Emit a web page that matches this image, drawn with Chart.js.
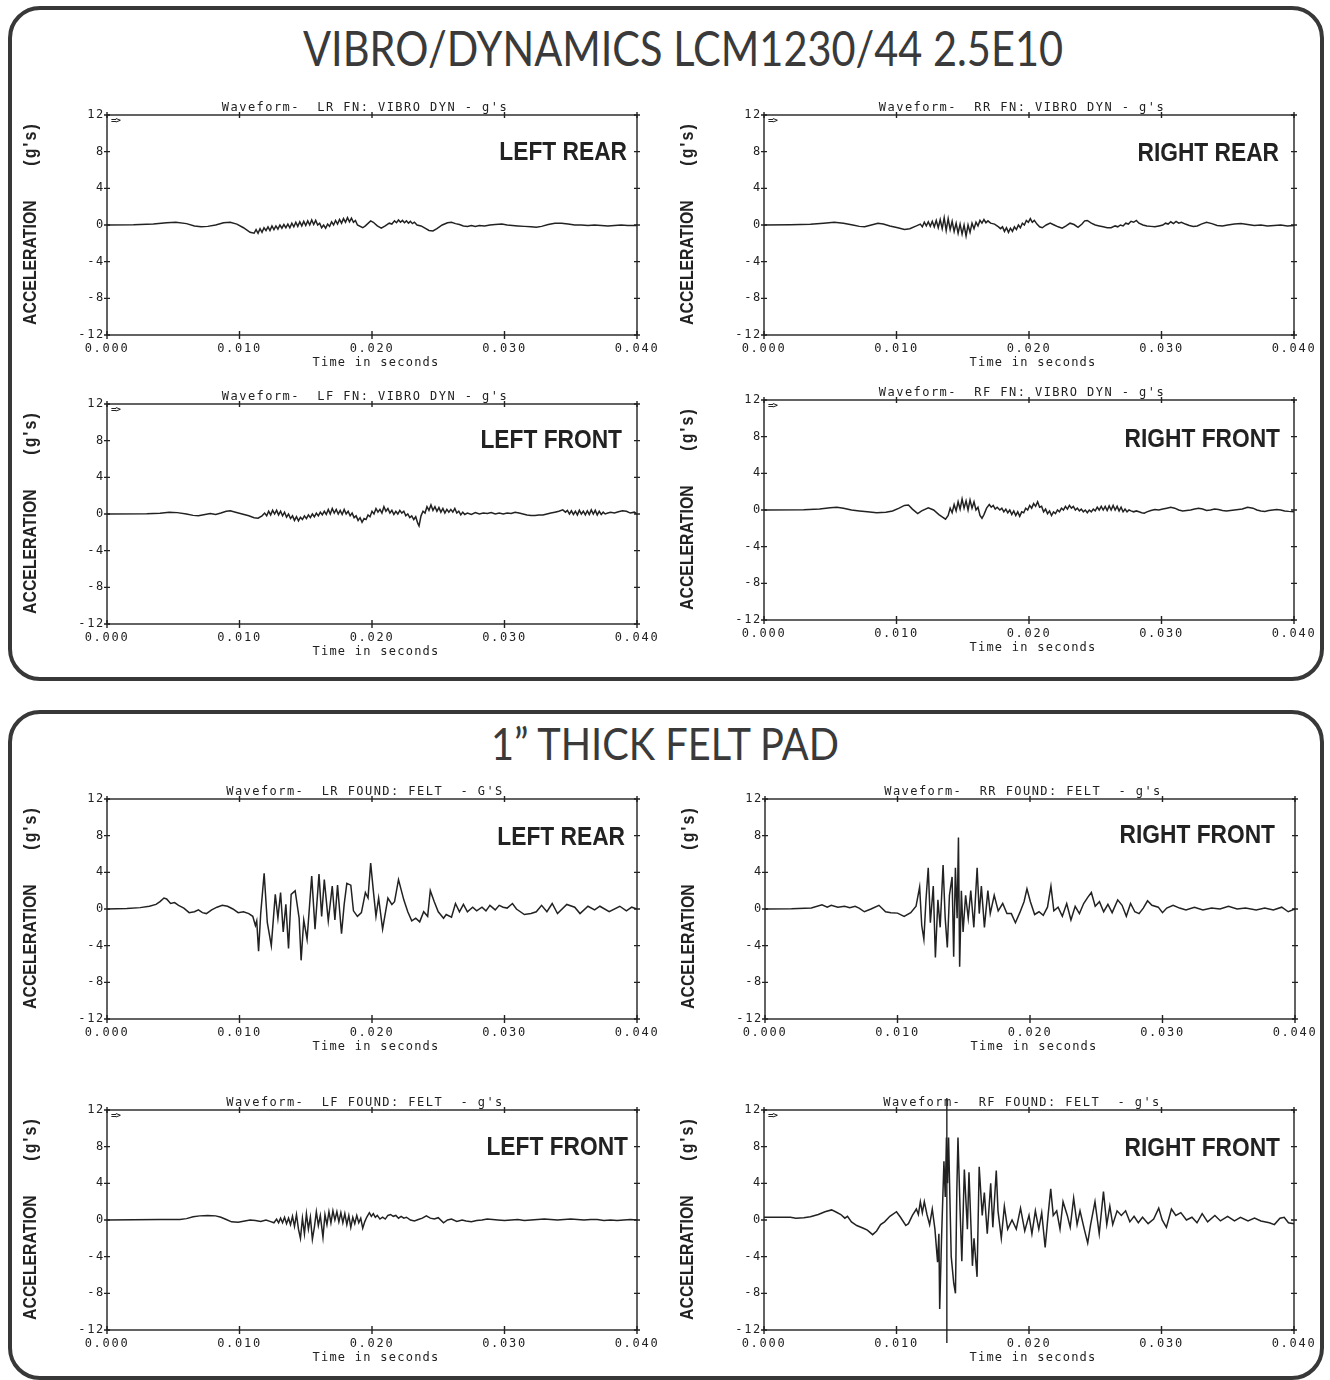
<!DOCTYPE html>
<html>
<head>
<meta charset="utf-8">
<title>Vibro/Dynamics mounts vs felt pad - acceleration waveforms</title>
<script src="https://cdn.jsdelivr.net/npm/chart.js@4.4.1/dist/chart.umd.min.js"></script>
<style>
  html, body { margin: 0; padding: 0; background: #fff; }
  #page { position: relative; width: 1330px; height: 1380px; overflow: hidden; background: #fff; }
  .panel { position: absolute; box-sizing: border-box; border: 4px solid #383838; border-radius: 32px; }
  .ptitle { position: absolute; white-space: nowrap; font-family: Lato, "Open Sans", sans-serif; font-weight: 400;
            color: #3a3a3a; line-height: 1; transform-origin: 0 0; }
  .bl { display: inline-block; width: 0; height: 0; }
  canvas { position: absolute; }
</style>
</head>
<body>
<div id="page">
  <div class="panel" style="left:8px;top:6px;width:1316px;height:675px"></div>
  <div class="panel" style="left:8px;top:710px;width:1316px;height:670px"></div>
  <div class="ptitle" id="title1" style="font-size:48px">VIBRO/DYNAMICS LCM1230/44 2.5E10<span class="bl"></span></div>
  <div class="ptitle" id="title2" style="font-size:45px">1” THICK FELT PAD<span class="bl"></span></div>
</div>
<script>
const MONO = '"DejaVu Sans Mono", "Liberation Mono", monospace';
const SANS = '"Liberation Sans", Arial, sans-serif';
const INK = '#222';

// axes (time in ms on the scale, labelled in seconds)
const xTicks = [0, 10, 20, 30, 40];
const xTickLabels = ['0.000', '0.010', '0.020', '0.030', '0.040'];
const yTicks = [-12, -8, -4, 0, 4, 8, 12];
const yTickLabels = ['-12', '-8', '-4', '0', '4', '8', '12'];

// waveforms: [time in ms, acceleration in g]
const lrVibro = [[0,0],[2,0.02],[3.5,0.1],[4.5,0.25],[5.2,0.3],[6,0.15],[6.6,-0.1],[7.1,-0.2],[7.6,-0.15],[8.2,0],[8.8,0.25],[9.3,0.3],[9.8,0.1],[10.3,-0.3],[10.8,-0.8],[11.1,-0.9],
  [11.25,-0.5],[11.4,-0.9],[11.55,-0.4],[11.7,-0.8],[11.85,-0.3],[12,-0.6],[12.15,-0.2],[12.3,-0.6],[12.45,-0.1],[12.6,-0.5],[12.75,-0.1],[12.9,-0.45],[13.05,0],[13.2,-0.35],[13.35,0.05],[13.5,-0.3],[13.65,0.1],[13.8,-0.3],[13.95,0.2],[14.1,-0.2],[14.25,0.3],[14.4,-0.15],[14.55,0.35],[14.7,-0.1],[14.85,0.4],[15,-0.05],[15.15,0.45],[15.3,0],[15.45,0.55],[15.6,0.05],[15.75,0.5],[15.9,0],[16.05,0.2],[16.2,-0.3],[16.35,0],[16.5,-0.35],[16.65,0.1],[16.8,-0.15],[16.95,0.35],[17.1,0],[17.25,0.5],[17.4,0.1],[17.55,0.6],[17.7,0.2],[17.85,0.7],[18,0.3],[18.15,0.8],[18.3,0.35],[18.45,0.75],[18.6,0.3],[18.75,0.5],[18.9,0],
  [19.3,-0.3],[19.5,-0.1],[19.9,0.45],[20.1,0.3],[20.4,-0.1],[20.7,-0.35],[21,-0.1],[21.3,0.2],[21.5,0.1],[21.7,0.45],[21.85,0.25],[22,0.55],[22.15,0.3],[22.3,0.5],[22.45,0.25],[22.6,0.45],[22.75,0.2],[22.9,0.4],[23.05,0.15],[23.2,0.3],[23.4,0],[23.7,-0.1],[24,-0.35],[24.3,-0.6],[24.6,-0.65],[24.9,-0.4],[25.3,0],[25.7,0.25],[26,0.3],[26.3,0.15],[26.6,0.05],[26.9,-0.1],[27.2,-0.15],[27.5,-0.05],[27.8,-0.15],[28.1,-0.05],[28.5,-0.1],[28.9,0],[29.3,0.05],[29.8,0.1],[30.2,0],[30.6,-0.05],[31,-0.1],[31.5,-0.15],[32,-0.2],[32.4,-0.25],[32.8,-0.15],[33.3,0.05],[33.8,0.2],[34.3,0.2],[34.8,0.1],[35.3,0],[35.8,0],[36.3,-0.05],[36.8,0],[37.3,-0.05],[37.8,-0.1],[38.3,-0.05],[38.8,0],[39.3,-0.05],[40,-0.05]];

const rrVibro = [[0,0],[2,0.02],[3.5,0.08],[4.5,0.2],[5.3,0.3],[6,0.2],[6.7,0],[7.2,-0.15],[7.6,-0.2],[8.1,0],[8.6,0.2],[9,0.1],[9.5,-0.1],[10.1,-0.3],[10.6,-0.5],[11,-0.4],[11.5,-0.1],
  [11.8,0.1],[11.95,-0.2],[12.1,0.3],[12.25,-0.1],[12.4,0.35],[12.55,-0.15],[12.7,0.4],[12.85,-0.2],[13,0.5],[13.15,-0.3],[13.3,0.6],[13.45,-0.4],[13.6,0.8],[13.75,-0.6],[13.9,0.7],[14.05,-0.5],[14.2,0.4],[14.35,-0.7],[14.5,0.2],[14.65,-0.9],[14.8,0.1],[14.95,-1],[15.1,0],[15.25,-1.2],[15.4,0],[15.55,-0.8],[15.7,0.2],[15.85,-0.4],[16,0.3],[16.15,-0.1],[16.3,0.5],[16.45,0.2],[16.6,0.6],[16.75,0.25],[16.9,0.45],[17.1,0.2],[17.4,0.1],[17.7,-0.2],
  [17.85,-0.4],[18,-0.2],[18.15,-0.7],[18.3,-0.3],[18.45,-0.8],[18.6,-0.35],[18.75,-0.7],[18.9,-0.2],[19.05,-0.5],[19.2,0],[19.35,-0.3],[19.5,0.2],[19.65,0],[19.8,0.5],[19.95,0.3],[20.1,0.7],[20.25,0.3],[20.4,0.5],[20.6,0.1],[20.8,-0.2],[21,-0.3],[21.3,0],[21.6,0.2],[21.9,0],[22.2,-0.2],[22.5,-0.35],[22.8,-0.1],[23.1,0.2],[23.4,0.05],[23.7,-0.25],[24,0.1],[24.2,0.45],[24.4,0.5],[24.7,0.2],[25,0],[25.3,-0.1],[25.6,-0.2],[25.9,-0.3],[26.2,-0.3],[26.5,-0.1],[26.7,-0.2],[26.9,0],[27.1,-0.1],[27.3,0.2],[27.5,0.1],[27.7,0.4],[27.9,0.3],[28.1,0.5],[28.3,0.2],[28.6,0],[28.9,-0.1],[29.2,-0.15],[29.5,-0.2],[29.8,-0.1],[30.1,0],[30.3,0.2],[30.5,0.1],[30.7,0.35],[30.9,0.15],[31.1,0.4],[31.3,0.2],[31.5,0.3],[31.8,0.1],[32.1,-0.05],[32.4,-0.15],[32.7,-0.1],[33,0.1],[33.4,0.3],[33.8,0.15],[34.2,-0.05],[34.6,-0.1],[35,0],[35.5,0.1],[36,0.15],[36.5,0.05],[37,-0.05],[37.5,0],[38,-0.1],[38.5,-0.05],[39,0],[39.5,-0.1],[40,-0.05]];

const lfVibro = [[0,0],[3,0.02],[4,0.08],[4.7,0.2],[5.3,0.15],[6,0],[6.5,-0.15],[6.9,-0.2],[7.4,-0.05],[7.8,0.05],[8.2,-0.05],[8.6,0.1],[9,0.3],[9.3,0.35],[9.7,0.2],[10.2,0],[10.7,-0.2],[11.1,-0.4],[11.4,-0.45],[11.7,-0.2],
  [11.9,0.1],[12.05,-0.2],[12.2,0.3],[12.35,-0.1],[12.5,0.4],[12.65,0],[12.8,0.4],[12.95,-0.1],[13.1,0.3],[13.25,-0.2],[13.4,0.2],[13.55,-0.35],[13.7,0],[13.85,-0.5],[14,-0.2],[14.15,-0.7],[14.3,-0.3],[14.45,-0.75],[14.6,-0.35],[14.75,-0.6],[14.9,-0.2],[15.05,-0.5],[15.2,-0.1],[15.35,-0.4],[15.5,0],[15.65,-0.3],[15.8,0.1],[15.95,-0.2],[16.1,0.2],[16.25,-0.1],[16.4,0.3],[16.55,-0.05],[16.7,0.5],[16.85,0],[17,0.6],[17.15,0.1],[17.3,0.5],[17.45,0],[17.6,0.4],[17.75,-0.05],[17.9,0.5],[18.05,0],[18.2,0.3],[18.35,-0.2],[18.5,0.1],[18.65,-0.4],[18.8,-0.2],[18.95,-0.7],[19.1,-0.4],[19.25,-0.9],[19.4,-0.5],[19.55,-0.6],[19.7,-0.1],[19.85,-0.3],[20,0.3],[20.15,0],[20.3,0.6],[20.45,0.2],[20.6,0.5],[20.75,0.1],[20.9,0.8],[21.05,0.3],[21.2,0.6],[21.35,0.1],[21.5,0.4],[21.65,-0.05],[21.8,0.3],[21.95,0],[22.1,0.4],[22.25,0.1],[22.4,0.3],[22.55,-0.2],[22.7,0],[22.85,-0.4],[23,-0.2],[23.15,-0.6],[23.3,-0.3],[23.45,-1],[23.55,-1.3],[23.7,-0.2],[23.85,0.3],[24,0.1],[24.15,0.8],[24.3,0.4],[24.45,1],[24.6,0.4],[24.75,0.8],[24.9,0.3],[25.05,0.7],[25.2,0.2],[25.35,0.6],[25.5,0.1],[25.65,0.5],[25.8,0.2],[25.95,0.5],[26.1,0.2],[26.25,0.6],[26.4,0.1],[26.55,0.3],[26.7,-0.1],[26.85,0.2],[27,-0.05],[27.2,0.1],[27.5,-0.05],[27.8,0.15],[28.1,0],[28.4,0.1],[28.7,0.05],[29,0.15],[29.3,0],[29.6,0.1],[29.9,0],[30.2,0.1],[30.5,0.05],[30.8,0.2],[31.1,0.1],[31.4,0],[31.7,-0.1],[32,-0.15],[32.3,-0.15],[32.6,-0.1],[32.9,-0.1],[33.2,0],[33.5,0.1],[33.8,0.2],[34.1,0.3],[34.4,0.45],[34.6,0.2],[34.75,0.4],[34.9,0],[35.05,0.35],[35.2,-0.05],[35.35,0.3],[35.5,-0.1],[35.65,0.4],[35.8,0],[35.95,0.3],[36.1,-0.1],[36.25,0.35],[36.4,-0.05],[36.55,0.45],[36.7,0],[36.85,0.4],[37,-0.1],[37.15,0.3],[37.3,-0.05],[37.45,0.2],[37.6,0],[37.8,0.1],[38,0.2],[38.3,0.1],[38.6,0.25],[38.9,0.35],[39.2,0.3],[39.5,0.1],[39.8,0.2],[40,0]];

const rfVibro = [[0,0],[3,0.02],[4.2,0.1],[5,0.25],[5.5,0.3],[6,0.2],[6.6,0],[7.2,-0.1],[7.8,-0.2],[8.5,-0.3],[9.2,-0.25],[9.7,-0.1],[10.2,0.2],[10.6,0.5],[10.9,0.55],[11.2,0.1],[11.6,-0.4],[11.9,-0.1],[12.4,0.25],[12.8,0],[13.2,-0.5],[13.5,-0.8],[13.7,-1],[13.9,-0.6],
  [14.05,0.2],[14.2,-0.3],[14.35,0.6],[14.5,-0.1],[14.65,0.9],[14.8,0.1],[14.95,1.2],[15.1,0.2],[15.25,1],[15.4,0],[15.55,1.1],[15.7,0.2],[15.85,0.9],[16,0],[16.15,0.3],[16.3,-0.6],[16.45,-0.9],[16.6,-0.5],[16.8,0.2],[17,0.6],[17.15,0.3],[17.3,0.5],[17.45,0.1],[17.6,0.3],[17.8,0],[17.95,0.2],[18.1,-0.2],[18.25,0.1],[18.4,-0.3],[18.55,0],[18.7,-0.5],[18.85,-0.1],[19,-0.6],[19.15,-0.2],[19.3,-0.7],[19.45,-0.2],[19.6,-0.3],[19.75,0.2],[19.9,0],[20.05,0.5],[20.2,0.2],[20.35,0.7],[20.5,0.4],[20.65,0.9],[20.8,0.3],[20.95,0.4],[21.1,-0.2],[21.25,0.1],[21.4,-0.4],[21.55,-0.1],[21.7,-0.6],[21.85,-0.2],[22,-0.4],[22.15,0],[22.3,-0.2],[22.45,0.2],[22.6,0],[22.75,0.4],[22.9,0.1],[23.05,0.5],[23.2,0.2],[23.35,0.4],[23.5,0],[23.65,0.2],[23.8,-0.1],[23.95,0.1],[24.1,-0.2],[24.25,0],[24.4,-0.3],[24.55,0],[24.7,-0.2],[24.85,0.1],[25,-0.1],[25.15,0.3],[25.3,0],[25.45,0.4],[25.6,0],[25.75,0.4],[25.9,-0.05],[26.05,0.45],[26.2,0],[26.35,0.5],[26.5,0],[26.65,0.4],[26.8,-0.1],[26.95,0.3],[27.1,-0.2],[27.25,0.1],[27.4,-0.2],[27.55,0],[27.7,-0.1],[27.9,-0.2],[28.1,-0.1],[28.3,-0.2],[28.5,-0.3],[28.7,-0.35],[28.9,-0.2],[29.2,-0.05],[29.5,0.05],[29.8,0],[30.1,0.1],[30.4,0.2],[30.7,0.3],[31,0.2],[31.3,0],[31.6,-0.1],[31.9,-0.05],[32.2,0],[32.5,0.1],[32.8,0.2],[33.1,0.1],[33.4,-0.05],[33.7,0],[34,0.1],[34.3,0.05],[34.6,-0.05],[34.9,-0.1],[35.2,-0.05],[35.5,0],[35.8,0.05],[36.1,0.1],[36.5,0.3],[36.9,0.2],[37.2,0],[37.5,-0.1],[37.8,-0.15],[38.1,-0.05],[38.4,0],[38.7,0.05],[39,0],[39.3,-0.1],[39.6,-0.15],[40,-0.2]];

const lrFelt = [[0,0],[1.5,0.05],[2.5,0.15],[3.2,0.3],[3.7,0.5],[4,0.8],[4.3,1.2],[4.5,1.1],[4.8,0.6],[5.1,0.7],[5.4,0.4],[5.8,0.1],[6.2,-0.4],[6.6,-0.3],[6.9,-0.1],[7.2,-0.4],[7.5,-0.5],[7.9,-0.1],[8.3,0.2],[8.7,0.4],[9.1,0.3],[9.5,0],[9.9,-0.4],[10.3,-0.3],[10.7,-0.5],[11,-0.8],[11.2,-1.8],[11.3,-1.3],[11.44,-4.6],[11.6,-0.5],[11.86,3.9],[12.1,-1.5],[12.4,-4],[12.7,1.6],[12.9,-1],[13.1,1.8],[13.3,-2.5],[13.5,0.5],[13.7,-4.3],[13.9,1.6],[14.2,2],[14.5,-1],[14.65,-5.6],[14.85,-1.2],[15.1,-3.3],[15.45,3.6],[15.7,-2.2],[16,3.8],[16.2,-0.8],[16.4,3.2],[16.7,-1.3],[17,2.5],[17.2,-1.2],[17.4,2.6],[17.7,-2.7],[17.9,0.5],[18.1,2.8],[18.4,2.6],[18.6,-0.2],[18.9,-0.8],[19.2,-0.4],[19.5,1.8],[19.7,1.2],[19.9,5],[20.1,2],[20.3,-0.8],[20.5,1.2],[20.8,-2.2],[21.2,1.2],[21.5,0.5],[21.7,0.8],[22,3.2],[22.4,1],[22.7,-0.3],[23,-1.3],[23.3,-1],[23.6,-1.4],[23.9,-0.3],[24.2,-0.8],[24.4,2],[24.7,0.8],[25,-0.3],[25.4,-1],[25.6,-0.6],[26,-0.9],[26.3,0.6],[26.6,-0.3],[26.9,0.5],[27.2,-0.3],[27.6,0.2],[27.9,-0.2],[28.3,0.2],[28.6,-0.2],[28.9,0.4],[29.3,-0.1],[29.6,0.4],[29.9,0.2],[30.2,0.1],[30.6,0.6],[30.9,0],[31.5,-0.6],[32,-0.5],[32.4,-0.3],[32.8,0.4],[33.2,-0.3],[33.6,0.6],[34,-0.5],[34.7,0.5],[35.3,0.2],[35.7,-0.5],[36.3,0.3],[36.8,-0.1],[37.2,0.3],[37.9,-0.3],[38.7,0.3],[39.2,-0.2],[39.6,0.2],[40,0]];

const rrFelt = [[0,0],[2,0.02],[3.5,0.1],[4.3,0.45],[4.7,0.2],[5,0.4],[5.5,0.2],[6,0.3],[6.4,0.15],[6.8,0.3],[7.1,0.1],[7.5,-0.3],[8,0],[8.6,0.4],[9.1,-0.3],[9.5,-0.4],[10,-0.45],[10.5,-0.8],[11,-0.4],[11.4,0.3],[11.67,2.4],[11.83,-1.8],[11.99,-3.3],[12.15,1],[12.32,4.5],[12.48,-1.5],[12.7,2.5],[12.86,-5.3],[13.05,1],[13.22,-2],[13.44,4.8],[13.6,-1],[13.76,-4.2],[13.92,1.5],[14.12,3.5],[14.24,-5.2],[14.37,4.5],[14.5,-1],[14.6,7.8],[14.69,-6.3],[14.82,2],[14.95,-2.5],[15.14,1.5],[15.34,-1],[15.53,2],[15.76,-2],[16.01,4.5],[16.17,-0.5],[16.33,2.5],[16.56,-2],[16.82,2],[17,-0.5],[17.3,1.5],[17.6,-0.2],[17.94,0.6],[18.26,-0.5],[18.59,-0.5],[18.9,-1.5],[19.23,-0.4],[19.55,0.8],[19.77,2.2],[20.03,0.8],[20.35,-0.6],[20.68,-0.3],[21,-0.7],[21.32,0.2],[21.58,2.5],[21.8,-0.2],[22.12,0.2],[22.44,-0.8],[22.77,0.6],[23.09,-1.2],[23.41,0.3],[23.73,-0.5],[24.05,0.6],[24.37,1.3],[24.63,1.8],[24.92,0.3],[25.24,0.8],[25.56,-0.3],[25.88,0.5],[26.2,-0.4],[26.62,1],[26.95,0.4],[27.27,-0.8],[27.59,0.6],[27.91,-0.3],[28.23,-0.5],[28.55,0.1],[28.87,0.9],[29.2,0.4],[29.68,0.2],[30,-0.4],[30.32,0.1],[30.8,0.4],[31.29,0.1],[31.77,-0.1],[32.41,0.2],[33.05,-0.1],[33.7,0.1],[34.34,0],[34.98,0.3],[35.63,0],[36.27,0.1],[37.07,-0.1],[37.72,0.1],[38.36,-0.1],[39,0.2],[39.49,-0.3],[40,0]];

const lfFelt = [[0,0],[2,0.02],[4,0.05],[5.5,0.05],[6,0.15],[6.5,0.35],[7,0.45],[7.6,0.5],[8.2,0.45],[8.6,0.3],[9,0.05],[9.4,-0.2],[9.9,-0.25],[10.4,-0.1],[10.8,0],[11.2,-0.05],[11.6,-0.15],[12,0],[12.3,-0.15],[12.6,-0.3],[12.8,0.1],[12.95,-0.3],[13.1,0.2],[13.25,-0.3],[13.4,0.3],[13.55,-0.4],[13.7,0.2],[13.85,-0.5],[14,0.4],[14.15,-0.7],[14.3,0.6],[14.45,-1],[14.6,-2],[14.75,0.2],[14.9,-1.5],[15.05,0.7],[15.2,-1],[15.35,0.3],[15.5,-2.1],[15.65,-0.8],[15.8,0.9],[15.95,-0.6],[16.1,0.5],[16.3,-1.9],[16.45,0.6],[16.6,-0.5],[16.75,0.9],[16.9,-0.3],[17.05,1],[17.2,0],[17.35,0.9],[17.5,-0.2],[17.65,0.8],[17.8,-0.3],[17.95,0.7],[18.1,-0.5],[18.25,0.5],[18.4,-0.8],[18.55,0.3],[18.7,-0.4],[18.85,0.5],[19,-0.3],[19.15,0.2],[19.3,-0.9],[19.45,-0.2],[19.6,0.3],[19.8,0.8],[19.95,0.4],[20.1,0.7],[20.25,0.3],[20.4,0.5],[20.6,0.1],[20.8,0.3],[21,0.1],[21.2,0.5],[21.4,0.6],[21.6,0.4],[21.8,0.5],[22,0.2],[22.2,0.4],[22.4,0.2],[22.6,0.3],[22.9,0],[23.2,-0.1],[23.5,0.05],[23.8,0.2],[24.1,0.45],[24.4,0.2],[24.7,0.1],[25,0.25],[25.4,-0.3],[25.7,0],[26,0.1],[26.4,-0.15],[26.8,0],[27.1,-0.1],[27.5,-0.2],[27.9,-0.05],[28.3,0],[28.7,0.1],[29.1,0.05],[29.5,0],[30,-0.05],[30.5,0],[31,0.05],[31.5,-0.05],[32,0],[32.5,0.05],[33,0.1],[33.5,0.05],[34,0],[34.5,0.05],[35,0.1],[35.5,0.05],[36,0],[36.5,0.05],[37,0.05],[37.5,-0.05],[38,0],[38.5,-0.05],[39,0],[39.5,0.05],[40,0]];

const rfFelt = [[0,0.3],[1,0.3],[2,0.3],[2.4,0.2],[3,0.25],[3.5,0.35],[4.1,0.6],[4.6,0.9],[5.1,1.1],[5.4,0.9],[5.8,0.6],[6.1,0.2],[6.3,0.4],[6.6,-0.2],[7,-0.6],[7.5,-0.9],[7.8,-1.1],[8.2,-1.6],[8.5,-1.2],[8.8,-0.5],[9.1,-0.2],[9.5,0.4],[10,0.9],[10.3,0.3],[10.7,-0.6],[10.9,-0.4],[11.2,0.5],[11.5,1.2],[11.65,0.6],[11.8,2],[11.95,0.8],[12.1,2],[12.3,0.6],[12.5,-0.5],[12.7,1.2],[12.9,-1],[13.1,-4.6],[13.2,-1.5],[13.26,-9.7],[13.4,-2],[13.58,6.4],[13.68,2.5],[13.77,9],[13.85,4],[13.93,9],[14.02,3],[14.13,-4],[14.32,-6.9],[14.45,-8],[14.55,3],[14.64,9],[14.8,1],[14.93,-4.5],[15.12,5.5],[15.35,-1],[15.47,5.2],[15.73,-5],[15.85,-2],[16.08,-6.2],[16.24,5.8],[16.47,0.5],[16.63,3],[16.85,-1.5],[17.11,4],[17.27,-0.8],[17.53,5.4],[17.66,1],[17.91,-2],[18.14,1.5],[18.39,-1],[18.72,0],[19.04,-1],[19.36,1.3],[19.68,-1.2],[20,0.5],[20.22,-1.5],[20.48,1],[20.74,-1],[20.96,0.8],[21.22,-3],[21.44,0.5],[21.64,3.4],[21.83,0.5],[22.09,1],[22.34,-1],[22.57,2],[22.89,0.5],[23.11,-0.8],[23.37,2.4],[23.63,-0.5],[23.85,1],[24.17,-1],[24.43,-2.5],[24.65,-0.5],[24.98,2],[25.3,-1.5],[25.62,3.1],[25.87,-0.5],[26.1,1.5],[26.32,-0.5],[26.65,1],[26.97,0.5],[27.29,1],[27.61,-0.2],[27.93,0.4],[28.25,-0.3],[28.57,0.3],[28.99,-0.4],[29.41,0.1],[29.79,1.3],[30.05,0],[30.37,-0.8],[30.75,1.2],[31.08,0.5],[31.46,0.8],[31.88,0],[32.3,0.3],[32.68,-0.3],[33.07,0.7],[33.48,-0.2],[34.03,0.5],[34.45,-0.1],[34.99,0.4],[35.51,-0.1],[35.96,0.3],[36.53,-0.1],[37.02,0.2],[37.5,-0.1],[38.14,-0.3],[38.52,-0.5],[38.94,0.2],[39.26,0.3],[39.58,-0.3],[40,-0.4]];
const rfFeltCursor = 13.8; // vertical marker line on the RF felt trace (ms)

// page layout for each plot (plot-area top-left in page pixels)
const plots = [
  { data: lrVibro, title: "Waveform-  LR FN: VIBRO DYN - g's", tag: 'LEFT REAR',   left: 107, top: 115, tagDx: 10, tagDy: 45, arrow: true },
  { data: rrVibro, title: "Waveform-  RR FN: VIBRO DYN - g's", tag: 'RIGHT REAR',  left: 764, top: 115, tagDx: 15, tagDy: 46, arrow: true },
  { data: lfVibro, title: "Waveform-  LF FN: VIBRO DYN - g's", tag: 'LEFT FRONT',  left: 107, top: 404, tagDx: 15, tagDy: 44, arrow: true },
  { data: rfVibro, title: "Waveform-  RF FN: VIBRO DYN - g's", tag: 'RIGHT FRONT', left: 764, top: 400, tagDx: 14, tagDy: 47, arrow: true },
  { data: lrFelt,  title: "Waveform-  LR FOUND: FELT  - G'S",  tag: 'LEFT REAR',   left: 107, top: 799, tagDx: 12, tagDy: 46, arrow: false },
  { data: rrFelt,  title: "Waveform-  RR FOUND: FELT  - g's",  tag: 'RIGHT FRONT', left: 765, top: 799, tagDx: 20, tagDy: 44, arrow: false },
  { data: lfFelt,  title: "Waveform-  LF FOUND: FELT  - g's",  tag: 'LEFT FRONT',  left: 107, top: 1110, tagDx: 9, tagDy: 45, arrow: true },
  { data: rfFelt,  title: "Waveform-  RF FOUND: FELT  - g's",  tag: 'RIGHT FRONT', left: 764, top: 1110, tagDx: 14, tagDy: 46, arrow: true, cursor: rfFeltCursor }
];

const Y_W = 92, TOP_PAD = 25, RIGHT_PAD = 30, X_H = 45, PLOT_W = 530, PLOT_H = 220;

// frame, cross ticks, titles and labels of the old plotter sheets
const decor = {
  id: 'decor',
  beforeDraw(chart) { chart.ctx.letterSpacing = '1.7px'; },
  afterDraw(chart, args, o) {
    const { ctx, chartArea: a, scales: { x, y } } = chart;
    ctx.save();
    ctx.strokeStyle = INK;
    ctx.fillStyle = INK;
    ctx.lineWidth = 1.4;
    ctx.strokeRect(a.left, a.top, a.width, a.height);
    ctx.beginPath();
    yTicks.forEach(v => {
      const py = y.getPixelForValue(v);
      ctx.moveTo(a.left - 3, py); ctx.lineTo(a.left + 3, py);
      ctx.moveTo(a.right - 3, py); ctx.lineTo(a.right + 3, py);
    });
    xTicks.forEach(v => {
      const px = x.getPixelForValue(v);
      ctx.moveTo(px, a.bottom - 4); ctx.lineTo(px, a.bottom + 4);
      ctx.moveTo(px, a.top - 3); ctx.lineTo(px, a.top + 3);
    });
    ctx.stroke();
    if (o.cursor != null) {
      const px = x.getPixelForValue(o.cursor);
      ctx.beginPath();
      ctx.moveTo(px, a.top - 12); ctx.lineTo(px, a.bottom + 13);
      ctx.stroke();
    }

    const cx = (a.left + a.right) / 2;
    ctx.font = '12px ' + MONO;
    ctx.textAlign = 'center';
    ctx.letterSpacing = '1.45px';
    ctx.textBaseline = 'alphabetic';
    ctx.fillText(o.title, cx - 7, a.top - 4);
    ctx.letterSpacing = '1.25px';
    ctx.textBaseline = 'middle';
    ctx.fillText('Time in seconds', cx + 4, a.bottom + 28);
    if (o.arrow) {
      ctx.font = 'bold 9px ' + MONO;
      ctx.letterSpacing = '-1px';
      ctx.textAlign = 'left';
      ctx.fillText('=>', a.left + 4, a.top + 6);
    }

    ctx.letterSpacing = '0px';
    ctx.font = 'bold 25px ' + SANS;
    ctx.textAlign = 'right';
    ctx.textBaseline = 'alphabetic';
    ctx.save();
    ctx.translate(a.right - o.tagDx, a.top + o.tagDy);
    ctx.scale(0.91, 1);
    ctx.fillText(o.tag, 0, 0);
    ctx.restore();

    const lx = a.left - 76;
    ctx.font = 'bold 18px ' + SANS;
    ctx.textBaseline = 'middle';
    ctx.save();
    ctx.translate(lx, a.bottom - 10);
    ctx.rotate(-Math.PI / 2);
    ctx.scale(0.88, 1);
    ctx.textAlign = 'left';
    ctx.fillText('ACCELERATION', 0, 0);
    ctx.restore();
    ctx.save();
    ctx.translate(lx, a.top + 7);
    ctx.rotate(-Math.PI / 2);
    ctx.scale(0.88, 1);
    ctx.textAlign = 'right';
    ctx.letterSpacing = '2.5px';
    ctx.fillText("(g's)", 0, 0);
    ctx.restore();

    ctx.restore();
    ctx.letterSpacing = '0px';
  }
};

const page = document.getElementById('page');
plots.forEach(p => {
  const cv = document.createElement('canvas');
  cv.width = Y_W + PLOT_W + RIGHT_PAD;
  cv.height = TOP_PAD + PLOT_H + X_H;
  cv.style.left = (p.left - Y_W) + 'px';
  cv.style.top = (p.top - TOP_PAD) + 'px';
  cv.style.width = cv.width + 'px';
  cv.style.height = cv.height + 'px';
  page.appendChild(cv);

  new Chart(cv, {
    type: 'line',
    data: {
      datasets: [{
        data: p.data.map(([t, g]) => ({ x: t, y: g })),
        borderColor: INK,
        borderWidth: 1.5,
        pointRadius: 0,
        tension: 0,
        fill: false
      }]
    },
    options: {
      responsive: false,
      devicePixelRatio: 1,
      animation: false,
      events: [],
      layout: { padding: { left: 0, top: TOP_PAD, right: RIGHT_PAD, bottom: 0 } },
      plugins: {
        legend: { display: false },
        tooltip: { enabled: false },
        decor: { title: p.title, tag: p.tag, tagDx: p.tagDx, tagDy: p.tagDy, arrow: p.arrow, cursor: p.cursor }
      },
      scales: {
        x: {
          type: 'linear', min: 0, max: 40,
          afterFit: s => { s.height = X_H; },
          grid: { display: false, drawTicks: false },
          border: { display: false },
          ticks: {
            stepSize: 10, autoSkip: false, maxRotation: 0, padding: 7, color: INK,
            font: { family: MONO, size: 12 },
            callback: v => xTickLabels[xTicks.indexOf(v)]
          }
        },
        y: {
          min: -12, max: 12,
          afterFit: s => { s.width = Y_W; },
          grid: { display: false, drawTicks: false },
          border: { display: false },
          ticks: {
            stepSize: 4, padding: 2, color: INK,
            font: { family: MONO, size: 12 },
            callback: v => yTickLabels[yTicks.indexOf(v)]
          }
        }
      }
    },
    plugins: [decor]
  });
});

// panel headings: centre, baseline and width taken from the sheet
function placeTitle(el, cx, baseline, width) {
  const r = el.getBoundingClientRect();
  const b = el.querySelector('.bl').getBoundingClientRect().top - r.top;
  const s = width / r.width;
  el.style.transform = 'scaleX(' + s + ')';
  el.style.left = (cx - width / 2) + 'px';
  el.style.top = (baseline - b) + 'px';
}
placeTitle(document.getElementById('title1'), 683, 66, 760);
placeTitle(document.getElementById('title2'), 665, 760, 348);
</script>
</body>
</html>
